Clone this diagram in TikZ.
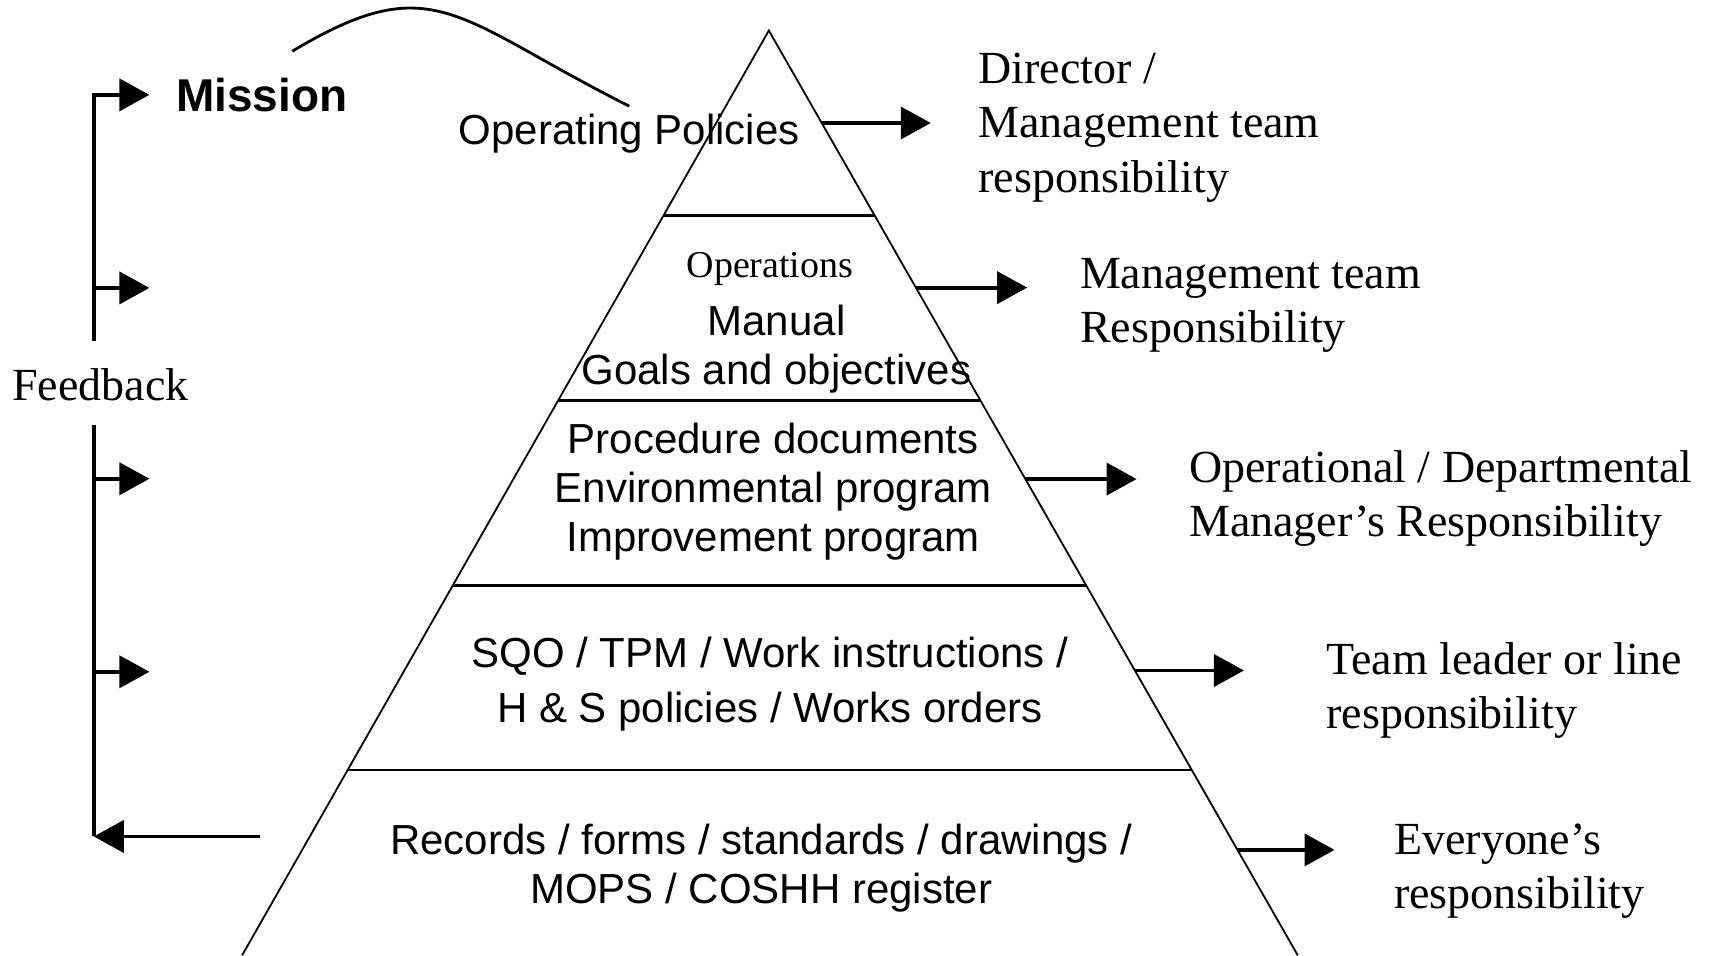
\documentclass[tikz,border=0pt]{standalone}
\usepackage{fontspec}
\setmainfont{Liberation Serif}
\setsansfont{Liberation Sans}
\usetikzlibrary{arrows.meta,calc}

\begin{document}
\begin{tikzpicture}[x=0.5453pt,y=-0.5453pt,
  arr/.style={-{Triangle[length=15pt,width=16pt]},line width=1.9pt},
  fbline/.style={line width=1.9pt},
  side/.style={line width=0.9pt},
  tier/.style={line width=1.1pt},
  sans/.style={font=\sffamily\fontsize{21}{24.5}\selectfont,align=center,inner sep=0pt},
  serif/.style={font=\rmfamily\fontsize{23}{27.3}\selectfont,align=left,anchor=west,inner sep=0pt}]
\useasboundingbox (0,0) rectangle (1568,876);
\coordinate (apex) at (705,28);
\coordinate (bl) at (222,876);
\coordinate (br) at (1190,876);
\draw[side] (bl) -- (apex) -- (br);
\foreach \t in {0.2,0.4,0.6,0.8}
  \draw[tier] ($(apex)!\t!(bl)$) -- ($(apex)!\t!(br)$);

\node[sans] (op) at (577,123) {Operating Policies};
\node[font=\rmfamily\fontsize{19}{22}\selectfont,inner sep=0pt] (opn) at (706,247) {Operations};
\node[sans] (man) at (712,320) {Manual\\Goals and objectives};
\node[sans] (proc) at (709,451) {Procedure documents\\Environmental program\\Improvement program};
\node[sans] (sqo) at (706,627) {SQO / TPM / Work instructions /\\[3pt]H \& S policies / Works orders};
\node[sans] (rec) at (698,796) {Records / forms / standards / drawings /\\MOPS / COSHH register};

\node[serif] (dir) at (897,117) {Director /\\Management team\\responsibility};
\node[serif] (mgt) at (990,280) {Management team\\Responsibility};
\node[serif] (dep) at (1090,457) {Operational / Departmental\\Manager’s Responsibility};
\node[serif] (lead) at (1216,633) {Team leader or line\\responsibility};
\node[serif] (all) at (1278,799) {Everyone’s\\responsibility};

\foreach \t/\l [count=\n] in {0.1/100,0.278/102,0.485/102,0.692/100,0.886/89} {
  \coordinate (s\n) at ($(apex)!\t!(br)$);
  \coordinate (e\n) at ($(s\n)+(\l,0)$);
  \draw[arr] (s\n) -- (e\n);
}

\node[font=\sffamily\bfseries\fontsize{23}{27}\selectfont,inner sep=0pt] (mission) at (240,87) {Mission};
\node[font=\rmfamily\fontsize{23}{27}\selectfont,inner sep=0pt] (fb) at (92,353) {Feedback};
\coordinate (fbup) at (86,313);
\coordinate (mis) at (137,87);
\coordinate (fbdown) at (86,390);
\coordinate (lbot) at (86,767);
\coordinate (recin) at (238,767);
\draw[arr] (fbup) |- (mis);
\draw[fbline] (fbdown) -- (lbot);
\draw[arr] (recin) -- (lbot);
\foreach \y [count=\i] in {264,439,616} {
  \coordinate (fa\i) at (86,\y);
  \coordinate (fe\i) at (137,\y);
  \draw[arr] (fa\i) -- (fe\i);
}

\coordinate (bumpstart) at (268,47);
\draw[line width=1.4pt] (bumpstart) .. controls (398,-31) and (417,17) .. ([yshift=4pt]op.north);
\end{tikzpicture}
\end{document}
